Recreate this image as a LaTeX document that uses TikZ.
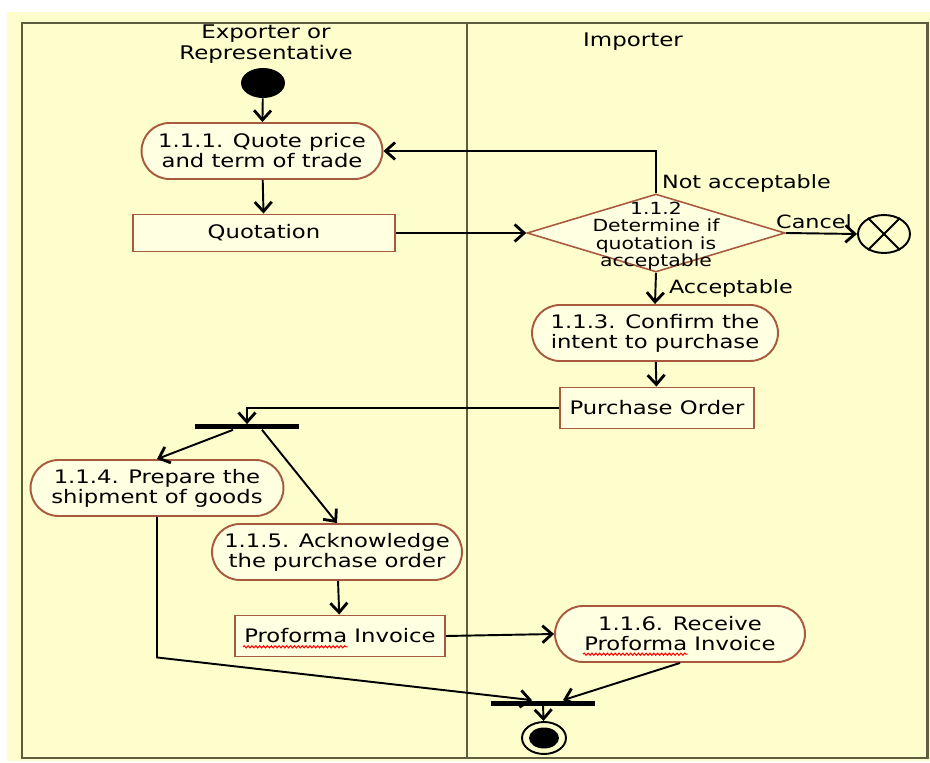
\documentclass[tikz,border=0pt]{standalone}
\usepackage{fontspec}
\setmainfont[FakeStretch=1.22]{DejaVu Sans}
\usetikzlibrary{shapes.geometric,arrows.meta,decorations.pathmorphing}
\definecolor{bgyel}{HTML}{FEFECC}
\definecolor{nodefill}{HTML}{FFFFE2}
\definecolor{nodeline}{HTML}{A85A3E}
\definecolor{frameline}{HTML}{5E5E3E}
\tikzset{
    AC/.style ={rectangle,rounded corners=0.56cm,minimum width=#1,minimum height=1.12cm,draw=nodeline,fill=nodefill,line width=1.1pt,align=center,font=\fontsize{10.6}{11.4}\selectfont},
    AC/.default=4.95cm,
    OB/.style ={rectangle,minimum width=#1,minimum height=0.82cm,draw=nodeline,fill=nodefill,line width=1.1pt,font=\fontsize{10.6}{11.4}\selectfont},
    OB/.default=4cm,
    DC/.style ={diamond,minimum width=5.16cm,minimum height=1.56cm,draw=nodeline,fill=nodefill,line width=0.9pt,inner sep=0pt},
    DT/.style ={align=center,font=\fontsize{9.5}{10}\selectfont},
    BR/.style ={rectangle,fill=black,minimum width=2.08cm,minimum height=0.1cm,inner sep=0pt},
    SN/.style ={ellipse,fill=black,minimum width=0.88cm,minimum height=0.6cm,inner sep=0pt},
    FF/.style ={ellipse,draw,line width=1.1pt,minimum width=1.04cm,minimum height=0.76cm,inner sep=0pt},
    EN/.style ={ellipse,draw,line width=1.1pt,minimum width=0.88cm,minimum height=0.64cm,inner sep=0pt,
        path picture={\fill (path picture bounding box.center) ellipse (0.3cm and 0.21cm);}},
    AR/.style ={line width=1.1pt,-{Straight Barb[length=1.9mm,width=3.4mm,line width=1.6pt]}},
    SP/.style ={red,line width=0.6pt,decorate,decoration={snake,amplitude=0.6pt,segment length=2.2pt}},
    LB/.style ={font=\fontsize{10.4}{11}\selectfont,inner sep=1pt},
    HD/.style ={align=center,font=\fontsize{10.7}{11.9}\selectfont},
    FR/.style ={frameline,line width=1.7pt}}

\begin{document}
\begin{tikzpicture}[x=0.02cm,y=-0.02cm]
        \useasboundingbox (0,0) rectangle (930,763);
        \fill[bgyel] (7,12) rectangle (930,761);
        \draw[FR] (22,23) rectangle (927,758);
        \draw[FR] (467,23) -- (467,758);
        \node[HD] (exp) at (266,44) {Exporter or\\Representative};
        \node[HD] (imp) at (633,42) {Importer};
        % exporter lane
        \node[SN] (st) at (263,83) {};
        \node[AC=4.82cm] (a111) at (262,151) {1.1.1. Quote price\\and term of trade};
        \node[OB=5.24cm,minimum height=0.74cm] (quo) at (264,233) {Quotation};
        \node[BR] (bar1) at (247,427) {};
        \node[AC=5.06cm] (a114) at (157,488) {1.1.4. Prepare the\\shipment of goods};
        \node[AC=5cm] (a115) at (337,552) {1.1.5. Acknowledge\\the purchase order};
        \node[OB=4.2cm] (pro) at (340,636) {Proforma Invoice};
        \draw[SP] ([xshift=-1.94cm,yshift=-2.2pt]pro.base) -- ++(2.09cm,0);
        % importer lane
        \node[DC] (dec) at (656,233) {};
        \node[DT] (dect) at ([yshift=-1.7pt]dec.center) {1.1.2\\Determine if\\quotation is\\acceptable};
        \node[FF] (ff) at (884,234) {};
        \draw[line width=1.1pt] (ff.45) -- (ff.225) (ff.135) -- (ff.315);
        \node[AC=4.92cm] (a113) at (655,333) {1.1.3. Confirm the\\intent to purchase};
        \node[OB=3.88cm] (po) at (657,408) {Purchase Order};
        \node[AC=5cm] (a116) at (680,634) {1.1.6. Receive\\Proforma Invoice};
        \draw[SP] ([xshift=-1.94cm,yshift=-11.5pt]a116.center) -- ++(2.09cm,0);
        \node[BR] (bar2) at (543,703) {};
        \node[EN] (en) at (544,738) {};
        % guards
        \node[LB,anchor=west] (lnot) at (660,183) {Not acceptable};
        \node[LB] (lcan) at (814,222) {Cancel};
        \node[LB,anchor=west] (lacc) at (667,288) {Acceptable};
        % flows
        \draw[AR] (st) -- (a111);
        \draw[AR] (a111) -- (quo);
        \draw[AR] (quo.east) -- (dec.west);
        \draw[AR] (dec.north) |- (a111.east);
        \draw[AR] (dec.east) -- (ff.west);
        \draw[AR] (dec.south) -- (a113.north);
        \draw[AR] (a113) -- (po);
        \draw[AR] (po.west) -| (bar1.north);
        \draw[AR] ([xshift=-0.28cm]bar1.south) -- (a114.north);
        \draw[AR] ([xshift=0.3cm]bar1.south) -- (a115.north);
        \draw[AR] (a115) -- (pro);
        \draw[AR] (pro.east) -- (a116.west);
        \coordinate (bend) at (a114.south |- pro.south);
        \draw[AR] (a114.south) -- (bend) -- ([xshift=-0.22cm]bar2.north);
        \draw[AR] (a116.south) -- ([xshift=0.4cm]bar2.north);
        \draw[AR] (bar2) -- (en);
\end{tikzpicture}
\end{document}
